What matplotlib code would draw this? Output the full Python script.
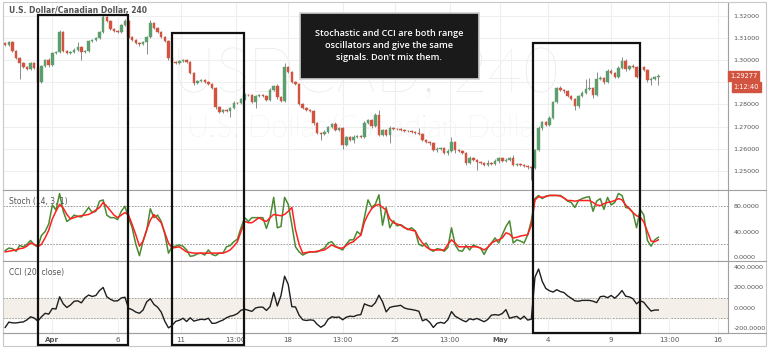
import matplotlib.pyplot as plt
from matplotlib.patches import Rectangle, FancyBboxPatch

# USDCAD 4h candles (open of first candle, then closes; each open = previous close)
first_open = 1.3077
closes = [1.3068, 1.3081, 1.3041, 1.3009, 1.2987, 1.2969, 1.2960, 1.2987, 1.2964, 1.2901,
          1.2973, 1.3000, 1.2978, 1.3032, 1.3036, 1.3126, 1.3041, 1.3032, 1.3036, 1.3045,
          1.3059, 1.3036, 1.3041, 1.3086, 1.3090, 1.3099, 1.3126, 1.3194, 1.3176, 1.3140,
          1.3131, 1.3126, 1.3158, 1.3176, 1.3104, 1.3090, 1.3077, 1.3072, 1.3081, 1.3104,
          1.3167, 1.3144, 1.3126, 1.3104, 1.3086, 1.3009, 1.2991, 1.2987, 1.2996, 1.3000,
          1.2991, 1.2942, 1.2897, 1.2906, 1.2910, 1.2901, 1.2892, 1.2874, 1.2789, 1.2766,
          1.2775, 1.2771, 1.2784, 1.2807, 1.2806, 1.2825, 1.2843, 1.2842, 1.2811, 1.2838,
          1.2843, 1.2838, 1.2820, 1.2865, 1.2883, 1.2834, 1.2816, 1.2969, 1.2946, 1.2901,
          1.2892, 1.2802, 1.2784, 1.2775, 1.2771, 1.2717, 1.2672, 1.2667, 1.2676, 1.2699,
          1.2712, 1.2685, 1.2694, 1.2618, 1.2654, 1.2640, 1.2654, 1.2658, 1.2653, 1.2717,
          1.2730, 1.2703, 1.2753, 1.2663, 1.2685, 1.2663, 1.2694, 1.2690, 1.2689, 1.2685,
          1.2680, 1.2681, 1.2676, 1.2672, 1.2667, 1.2640, 1.2631, 1.2626, 1.2595, 1.2600,
          1.2604, 1.2582, 1.2591, 1.2631, 1.2595, 1.2590, 1.2582, 1.2537, 1.2559, 1.2550,
          1.2541, 1.2536, 1.2528, 1.2537, 1.2532, 1.2546, 1.2559, 1.2545, 1.2550, 1.2559,
          1.2528, 1.2532, 1.2527, 1.2523, 1.2518, 1.2514, 1.2595, 1.2694, 1.2721, 1.2707,
          1.2739, 1.2811, 1.2874, 1.2865, 1.2860, 1.2838, 1.2825, 1.2793, 1.2838, 1.2852,
          1.2870, 1.2874, 1.2843, 1.2915, 1.2919, 1.2901, 1.2951, 1.2942, 1.2924, 1.2964,
          1.2996, 1.2959, 1.2973, 1.2969, 1.2924, 1.2969, 1.2955, 1.2910, 1.2914, 1.2924,
          1.2928]
# wick lengths in pips above / below the body
wick_up = [4, 5, 3, 4, 3, 4, 3, 5, 4, 3, 6, 5, 8, 4, 6, 9, 4, 5, 6, 8,
           20, 5, 6, 4, 5, 6, 4, 9, 5, 4, 6, 3, 5, 8, 4, 3, 4, 5, 4, 6,
           14, 5, 4, 6, 3, 4, 6, 5, 4, 6, 5, 4, 3, 6, 4, 5, 3, 4, 5, 4,
           6, 5, 4, 8, 6, 5, 7, 6, 4, 5, 6, 4, 5, 8, 6, 9, 5, 18, 6, 4,
           5, 4, 6, 4, 5, 4, 6, 5, 8, 6, 5, 7, 6, 4, 6, 5, 10, 6, 5, 8,
           6, 5, 7, 22, 6, 5, 8, 6, 5, 4, 5, 6, 4, 5, 20, 4, 6, 5, 4, 8,
           6, 5, 8, 22, 6, 4, 5, 6, 8, 6, 5, 4, 6, 13, 5, 8, 6, 5, 7, 6,
           14, 5, 4, 6, 4, 5, 6, 8, 5, 6, 7, 5, 6, 8, 6, 5, 4, 6, 5, 8,
           45, 45, 6, 31, 8, 6, 10, 7, 6, 8, 18, 9, 6, 8, 5, 10, 6, 5, 8, 6,
           7]
wick_dn = [5, 4, 6, 5, 72, 5, 4, 6, 5, 36, 6, 5, 8, 6, 5, 6, 4, 5, 6, 5,
           6, 35, 5, 6, 4, 5, 6, 5, 4, 6, 5, 4, 6, 5, 4, 6, 5, 8, 6, 54,
           5, 4, 6, 5, 4, 8, 5, 6, 4, 5, 6, 5, 8, 6, 5, 4, 6, 5, 8, 6,
           5, 6, 27, 5, 6, 4, 5, 6, 5, 27, 6, 5, 4, 6, 5, 8, 6, 5, 6, 4,
           5, 6, 4, 5, 6, 8, 6, 27, 5, 6, 4, 6, 5, 18, 6, 5, 14, 6, 5, 4,
           6, 8, 5, 6, 5, 6, 36, 5, 6, 4, 5, 6, 5, 6, 4, 6, 5, 8, 6, 10,
           5, 6, 8, 5, 14, 6, 5, 8, 6, 5, 36, 6, 5, 6, 4, 5, 8, 6, 5, 6,
           5, 6, 5, 6, 8, 54, 6, 5, 8, 6, 5, 4, 6, 5, 8, 6, 5, 18, 8, 6,
           5, 4, 13, 6, 5, 8, 6, 5, 4, 6, 5, 8, 6, 5, 4, 6, 5, 8, 22, 6,
           36]

# Stochastic (%K green, %D red), one value per candle
stoch_k = [10, 14, 13, 9, 18, 16, 20, 26, 19, 16, 34, 40, 52, 82, 74, 100, 72, 56, 60, 66,
           64, 63, 70, 78, 70, 72, 88, 90, 66, 62, 62, 59, 72, 80, 62, 46, 20, 2, 25, 42,
           76, 62, 66, 56, 36, 6, 16, 17, 19, 17, 11, 1, 2, 5, 6, 3, 11, 4, 2, 6,
           6, 16, 18, 24, 28, 46, 62, 56, 62, 62, 62, 62, 45, 62, 94, 46, 48, 94, 83, 51,
           16, 8, 3, 6, 8, 8, 8, 11, 14, 22, 24, 17, 14, 11, 20, 27, 27, 40, 35, 62,
           90, 78, 83, 98, 50, 78, 46, 57, 49, 51, 47, 43, 46, 41, 20, 17, 22, 12, 9, 13,
           12, 9, 15, 46, 19, 10, 9, 18, 11, 19, 16, 14, 4, 15, 22, 30, 22, 35, 48, 57,
           22, 27, 25, 22, 35, 57, 92, 97, 92, 96, 97, 97, 97, 97, 93, 88, 86, 78, 89, 92,
           94, 95, 72, 88, 92, 75, 94, 82, 86, 100, 97, 78, 77, 70, 46, 75, 66, 26, 17, 27,
           31]
stoch_d = [8, 9, 10, 11, 13, 14, 17, 22, 20, 16, 20, 30, 42, 60, 72, 83, 77, 67, 60, 62,
           64, 65, 66, 67, 70, 74, 78, 86, 80, 73, 66, 62, 66, 70, 66, 51, 35, 17, 25, 43,
           58, 67, 60, 54, 38, 22, 14, 15, 16, 12, 8, 7, 6, 6, 6, 6, 6, 6, 6, 6,
           6, 8, 11, 17, 24, 40, 56, 54, 54, 58, 62, 58, 56, 62, 67, 66, 65, 67, 72, 78,
           43, 20, 6, 7, 8, 8, 9, 10, 11, 15, 19, 16, 14, 14, 18, 22, 24, 30, 34, 55,
           67, 76, 81, 83, 78, 74, 60, 54, 52, 50, 46, 44, 42, 41, 30, 22, 16, 12, 11, 11,
           11, 11, 20, 27, 22, 16, 16, 16, 16, 16, 16, 14, 11, 15, 22, 25, 27, 30, 38, 36,
           30, 31, 33, 34, 35, 50, 90, 95, 94, 95, 97, 97, 97, 96, 93, 89, 89, 88, 89, 89,
           89, 89, 86, 82, 81, 84, 86, 87, 89, 92, 90, 82, 76, 70, 65, 63, 55, 40, 25, 24,
           27]

# CCI (20, close)
cci = [-190, -138, -145, -146, -140, -136, -116, -86, -98, -128, -86, -52, -60, -5, -10, 109, 40, 5, 29, 65,
       70, 50, 100, 126, 112, 122, 170, 200, 109, 85, 68, 70, 98, 105, -3, -17, -40, -52, -20, 60,
       90, 35, 8, -40, -130, -194, -170, -130, -120, -100, -132, -96, -128, -118, -110, -114, -100, -150, -148, -132,
       -118, -95, -80, -72, -55, -22, -12, -22, -33, 0, 8, 8, -24, 13, 150, 20, 120, 310, 230, 13,
       10, -70, -115, -122, -116, -120, -160, -188, -165, -110, -86, -92, -88, -115, -90, -80, -84, -70, -65, 40,
       25, 15, 50, 125, 60, -38, 5, 15, 19, 26, 0, -10, -15, -22, -32, -125, -110, -140, -190, -150,
       -140, -150, -115, -35, -80, -100, -120, -135, -105, -115, -102, -118, -134, -112, -70, -65, -70, -54, -16, -100,
       -90, -82, -110, -80, -118, -110, 300, 380, 260, 190, 168, 155, 178, 160, 150, 118, 95, 70, 66, 74,
       74, 74, 66, 52, 110, 115, 100, 122, 95, 128, 170, 115, 108, 90, 40, 70, 55, 10, -30, -20,
       -20]

price_ticks = [1.25, 1.26, 1.27, 1.28, 1.29, 1.30, 1.31, 1.32]
stoch_ticks = [0, 40, 80]
cci_ticks = [-200, 0, 200, 400]
date_pos = [13, 31, 48.5, 63.5, 78, 93, 107.5, 122.5, 136.5, 149.5, 167, 183, 196.5]
date_labels = ['Apr', '6', '11', '13:00', '18', '13:00', '25', '13:00', 'May', '4', '9', '13:00', '16']
# highlight boxes: first candle, last candle, top price
boxes = [(9.1, 33.9, 1.3203), (45.9, 65.9, 1.3120), (145.4, 174.9, 1.3075)]
last_price = 1.29277
countdown = '1:12:40'
callout = ['Stochastic and CCI are both range', 'oscillators and give the same',
           "signals. Don't mix them."]

GREEN = '#5c9e6e'
RED = '#d2533f'
GRID = '#efefef'
TXT = '#555555'

W, H = 768, 349
fig = plt.figure(figsize=(W / 100, H / 100), dpi=100)

def px_axes(top, bottom):
    return fig.add_axes([3 / W, (H - bottom) / H, 725 / W, (bottom - top) / H])

ax1 = px_axes(2, 190)
ax2 = px_axes(190, 261)
ax3 = px_axes(261, 333)

n = len(closes)
xs = list(range(n))
opens = [first_open] + closes[:-1]

for ax in (ax1, ax2, ax3):
    ax.set_xlim(-0.6, 199.2)
    ax.set_xticks(date_pos)
    ax.grid(True, axis='x', color=GRID, lw=0.8, zorder=0)
    ax.tick_params(axis='x', length=0, labelbottom=False)
    ax.yaxis.tick_right()
    ax.tick_params(axis='y', length=0, labelsize=4.6, labelcolor=TXT, pad=4)
    for s in ax.spines.values():
        s.set_color('#a0a0a0')
        s.set_linewidth(0.8)
    ax.spines['left'].set_visible(False)
    ax.spines['top'].set_visible(False)

# --- price panel
ax1.set_ylim(1.2415, 1.3261)
ax1.set_yticks(price_ticks)
ax1.set_yticklabels(['%.5f' % p for p in price_ticks])
ax1.grid(True, axis='y', color=GRID, lw=0.8, zorder=0)
ax1.text(0.50, 0.61, 'USDCAD, 240', transform=ax1.transAxes, ha='center', va='center',
         fontsize=44, color='#e8e8e8', family='Lato', fontweight='light', zorder=1)
ax1.text(0.50, 0.33, 'U.S. Dollar/Canadian Dollar', transform=ax1.transAxes, ha='center',
         va='center', fontsize=22, color='#e8e8e8', family='Lato', fontweight='light', zorder=1)

highs = [max(o, c) + u * 0.0001 for o, c, u in zip(opens, closes, wick_up)]
lows = [min(o, c) - d * 0.0001 for o, c, d in zip(opens, closes, wick_dn)]
cols = [GREEN if c >= o else RED for o, c in zip(opens, closes)]
ax1.vlines(xs, lows, highs, colors='#8a8a8a', lw=0.7, zorder=2)
ax1.bar(xs, [max(abs(c - o), 0.00012) for o, c in zip(opens, closes)],
        bottom=[min(o, c) for o, c in zip(opens, closes)], width=0.68,
        color=cols, edgecolor=cols, lw=0.3, zorder=3)

ax1.annotate('%.5f' % last_price, xy=(1.0, last_price), xycoords=('axes fraction', 'data'),
             xytext=(1.5, 0), textcoords='offset points', ha='left', va='center', fontsize=4.8,
             color='white', bbox=dict(boxstyle='square,pad=0.3', fc=RED, ec=RED))
ax1.annotate(countdown, xy=(1.0, last_price), xycoords=('axes fraction', 'data'),
             xytext=(4, -8), textcoords='offset points', ha='left', va='center', fontsize=4.8,
             color='white', bbox=dict(boxstyle='square,pad=0.3', fc=RED, ec=RED))

# --- stochastic panel
ax2.set_ylim(-6.4, 105.6)
ax2.set_yticks(stoch_ticks)
ax2.set_yticklabels(['%.4f' % v for v in stoch_ticks])
for lvl in (80, 20):
    ax2.axhline(lvl, color='#8c8c8c', lw=0.6, ls=(0, (2, 1.5)), zorder=1)
ax2.plot(xs, stoch_k, color='#4a8a32', lw=1.1, zorder=3)
ax2.plot(xs, stoch_d, color='#ff2020', lw=1.1, zorder=4)
ax2.text(0.008, 0.84, 'Stoch (14, 3, 1)', transform=ax2.transAxes, fontsize=5.5, color=TXT,
         va='center')

# --- CCI panel
ax3.set_ylim(-244, 458)
ax3.set_yticks(cci_ticks)
ax3.set_yticklabels(['%.4f' % v for v in cci_ticks])
ax3.axhspan(-100, 100, color='#f4f0e9', zorder=0)
for lvl in (100, -100):
    ax3.axhline(lvl, color='#9a9a9a', lw=0.6, ls=(0, (2, 1.5)), zorder=1)
ax3.plot(xs, cci, color='#1e1e1e', lw=1.0, zorder=3)
ax3.text(0.008, 0.84, 'CCI (20, close)', transform=ax3.transAxes, fontsize=5.5, color=TXT,
         va='center')
ax3.tick_params(axis='x', labelbottom=True, labelsize=5, labelcolor=TXT, pad=3)
ax3.set_xticklabels(date_labels)
for lab in ax3.get_xticklabels():
    if lab.get_text() in ('Apr', 'May'):
        lab.set_fontweight('bold')

# title
fig.text(9 / W, 1 - 11 / H, 'U.S. Dollar/Canadian Dollar, 240', fontsize=5.5, color=TXT,
         fontweight='bold', va='center')

# frame lines
for y in (190, 261, 333):
    fig.add_artist(plt.Line2D([3 / W, 766 / W], [(H - y) / H] * 2, color='#a0a0a0', lw=0.8))
fig.add_artist(Rectangle((3 / W, 3 / H), 763 / W, (H - 5) / H, fill=False,
                         ec='#c8c8c8', lw=0.8, transform=fig.transFigure))

# highlight boxes
fig.canvas.draw()
inv = fig.transFigure.inverted()
for k, (i0, i1, ptop) in enumerate(boxes):
    x0, yt = inv.transform(ax1.transData.transform((i0, ptop)))
    x1, _ = inv.transform(ax1.transData.transform((i1, ptop)))
    yb = (H - 333) / H if k == 2 else (H - 345) / H
    fig.add_artist(Rectangle((x0, yb), x1 - x0, yt - yb, fill=False, ec='#111111', lw=1.6,
                             transform=fig.transFigure, zorder=10))

# callout (sits on top of the watermark, as in the original)
fig.add_artist(FancyBboxPatch((300 / W, (H - 79) / H), 179 / W, 66 / H,
                              boxstyle='square,pad=0', fc='#1a1a1a', ec='#cfcfcf', lw=1.2,
                              transform=fig.transFigure, zorder=11))
for j, line in enumerate(callout):
    fig.text(389 / W, 1 - (33 + 12 * j) / H, line, ha='center', va='center', color='white',
             fontsize=6.6, family='Open Sans', fontweight='semibold', zorder=12)

fig.savefig('out.png', dpi=100)
